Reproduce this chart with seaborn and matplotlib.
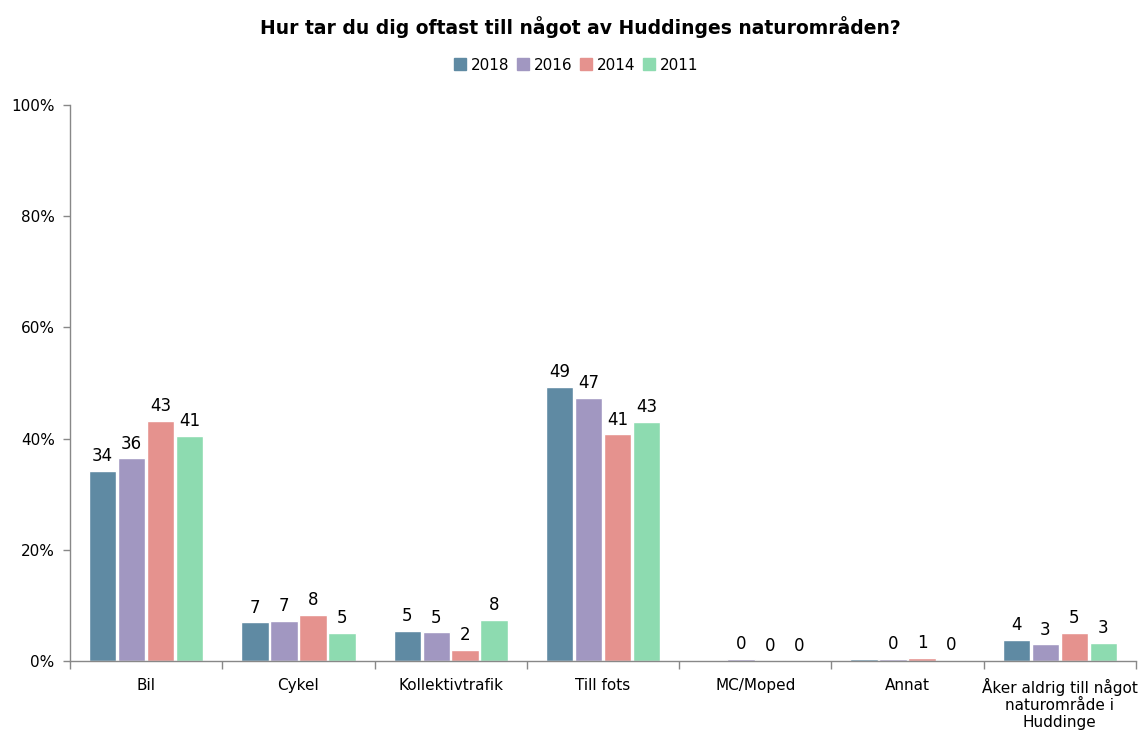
import matplotlib.pyplot as plt
import pandas as pd
import seaborn as sns
from matplotlib.ticker import FixedLocator, PercentFormatter

categories = ["Bil", "Cykel", "Kollektivtrafik", "Till fots", "MC/Moped", "Annat",
              "Åker aldrig till något\nnaturområde i\nHuddinge"]
years = ["2018", "2016", "2014", "2011"]

# bar heights in percent
v2018 = [34.2, 7.0, 5.4, 49.3, 0.2, 0.4, 3.8]
v2016 = [36.5, 7.2, 5.2, 47.3, 0.4, 0.4, 3.0]
v2014 = [43.2, 8.3, 2.0, 40.8, 0.1, 0.6, 5.1]
v2011 = [40.5, 5.1, 7.4, 43.0, 0.1, 0.2, 3.3]

# labels shown above bars (None = no label in the original)
l2018 = ["34", "7", "5", "49", None, None, "4"]
l2016 = ["36", "7", "5", "47", "0", "0", "3"]
l2014 = ["43", "8", "2", "41", "0", "1", "5"]
l2011 = ["41", "5", "8", "43", "0", "0", "3"]

colors = ["#5f8aa3", "#a197c1", "#e5928e", "#8ddbb0"]

series = dict(zip(years, [v2018, v2016, v2014, v2011]))
labels = [l2018, l2016, l2014, l2011]

df = pd.DataFrame(
    [(c, y, v) for y in years for c, v in zip(categories, series[y])],
    columns=["kategori", "år", "andel"],
)

sns.set_style("white")
plt.rcParams["font.family"] = ["DejaVu Sans"]
plt.rcParams["text.color"] = "black"
plt.rcParams["xtick.labelcolor"] = "black"
plt.rcParams["ytick.labelcolor"] = "black"

fig = plt.figure(figsize=(11.39, 7.33), dpi=100)
ax = fig.add_axes([70 / 1139, 72 / 733, 1066 / 1139, 556 / 733])

sns.barplot(data=df, x="kategori", y="andel", hue="år", hue_order=years,
            palette=colors, width=0.76, gap=0.05, saturation=1,
            legend=False, ax=ax)

for cont, labs in zip(ax.containers, labels):
    ax.bar_label(cont, labels=[l if l is not None else "" for l in labs],
                 padding=4, fontsize=12, color="black")

ax.set_ylim(0, 100)
ax.set_xlim(-0.5, len(categories) - 0.5)
ax.set_yticks([0, 20, 40, 60, 80, 100])
ax.yaxis.set_major_formatter(PercentFormatter(decimals=0))
ax.set_xlabel("")
ax.set_ylabel("")
ax.tick_params(axis="y", labelsize=11, length=5, width=1, color="#888888",
               left=True, pad=6)
ax.tick_params(axis="x", which="major", labelsize=11, length=0, pad=12)
ax.xaxis.set_minor_locator(FixedLocator([i - 0.5 for i in range(len(categories) + 1)]))
ax.tick_params(axis="x", which="minor", length=6, width=1, color="#888888", bottom=True)
for lab in ax.get_xticklabels():
    lab.set_linespacing(1.2)

for s in ["top", "right"]:
    ax.spines[s].set_visible(False)
for s in ["left", "bottom"]:
    ax.spines[s].set_color("#888888")
    ax.spines[s].set_linewidth(1)

handles = [plt.Rectangle((0, 0), 1, 1, color=c) for c in colors]
fig.legend(handles, years, loc="center", bbox_to_anchor=(576 / 1139, 1 - 65 / 733),
           ncol=4, frameon=False, fontsize=11, handlelength=0.8, handleheight=0.8,
           handletextpad=0.3, columnspacing=0.5)

fig.text(580 / 1139, 1 - 27 / 733, "Hur tar du dig oftast till något av Huddinges naturområden?",
         ha="center", va="center", fontsize=13.5, fontweight="bold")

fig.savefig("out.png", dpi=100)
